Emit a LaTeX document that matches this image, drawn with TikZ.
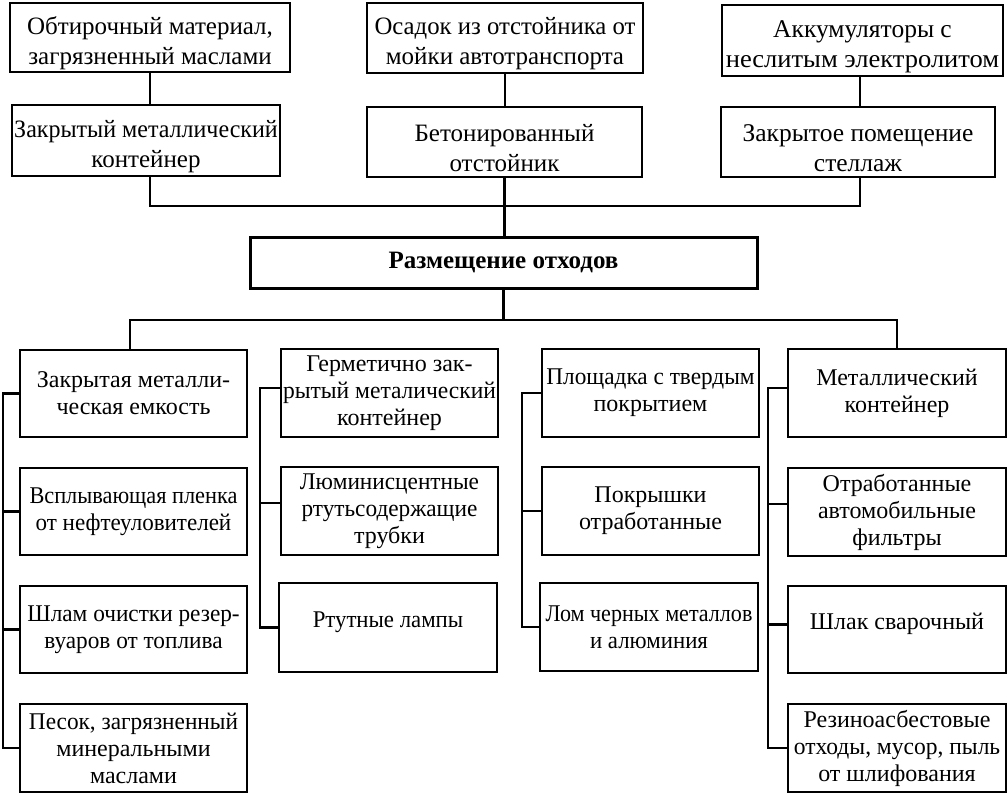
\documentclass[tikz,border=0pt]{standalone}
\usepackage{fontspec}
\setmainfont{Liberation Serif}
\usetikzlibrary{calc}
\tikzset{
  bx/.style={draw, line width=2.6pt, inner sep=0pt, align=center, font=\fontsize{24}{27}\selectfont},
  topbx/.style={bx, font=\fontsize{25}{30}\selectfont},
  bigbx/.style={topbx, font=\fontsize{25.5}{30}\selectfont},
  mainbx/.style={bx, line width=3pt, font=\bfseries\fontsize{25}{28}\selectfont},
  ln/.style={line width=2.4pt}
}
\newcommand\mkbox[7][bx]{\node[#1, minimum width={(#5-#3)*1pt}, minimum height={(#6-#4)*1pt}] (#2) at ({(#3+#5)/2},{(#4+#6)/2}) {#7};}
\newcommand\sq[2]{\scalebox{#1}[1]{#2}}
\newcommand\up{\rule[-16pt]{0pt}{0pt}}
\newcommand\dn{\rule{0pt}{29pt}}
\begin{document}
\begin{tikzpicture}[x=1pt,y=-1pt]
\useasboundingbox (0,0) rectangle (1008,793);
% top row
\mkbox[topbx]{A1}{10}{3}{290}{72}{\dn Обтирочный материал,\\загрязненный маслами}
\mkbox[topbx]{A2}{12}{105}{280}{176}{\dn\sq{0.96}{Закрытый металлический}\\контейнер}
\mkbox[topbx]{B1}{367}{3}{643}{73}{\dn\sq{0.99}{Осадок из отстойника от}\\мойки автотранспорта}
\mkbox[topbx]{B2}{367}{107}{642}{177}{\dn Бетонированный\\отстойник}
\mkbox[bigbx]{C1}{722}{5}{1003}{76}{\dn Аккумуляторы с\\\sq{1.04}{неслитым электролитом}}
\mkbox[bigbx]{C2}{721}{107}{995}{177}{\dn Закрытое помещение\\стеллаж}
\mkbox[mainbx]{M}{250}{237}{757}{288}{Размещение отходов}
% columns
\mkbox{D1}{20}{350}{247}{437}{Закрытая металли-\\ческая емкость}
\mkbox{D2}{20}{468}{247}{555}{\sq{0.93}{Всплывающая пленка}\\\sq{0.96}{от нефтеуловителей}}
\mkbox{D3}{20}{586}{247}{673}{\sq{0.97}{Шлам очистки резер-}\\\sq{0.97}{вуаров от топлива}}
\mkbox{D4}{20}{704}{247}{792}{\sq{0.97}{Песок, загрязненный}\\минеральными\\маслами}
\mkbox{E1}{281}{349}{498}{437}{Герметично зак-\\\sq{0.98}{рытый металический}\\контейнер}
\mkbox{E2}{281}{467}{498}{555}{\sq{0.97}{Люминисцентные}\\\sq{0.97}{ртутьсодержащие}\\трубки}
\mkbox{E3}{279}{583}{497}{672}{\sq{0.95}{Ртутные лампы}\up}
\mkbox{F1}{542}{349}{759}{437}{\sq{0.97}{Площадка с твердым}\\покрытием}
\mkbox{F2}{542}{467}{759}{555}{Покрышки\\отработанные}
\mkbox{F3}{540}{583}{758}{671}{\sq{0.92}{Лом черных металлов}\\\sq{0.95}{и алюминия}}
\mkbox{G1}{788}{349}{1006}{437}{Металлический\\контейнер}
\mkbox{G2}{788}{468}{1006}{556}{Отработанные\\автомобильные\\фильтры}
\mkbox{G3}{788}{586}{1006}{673}{Шлак сварочный\up}
\mkbox{G4}{788}{704}{1006}{792}{Резиноасбестовые\\\sq{0.98}{отходы, мусор, пыль}\\от шлифования}
% top connectors
\coordinate (jt) at (B2.south |- 0,206);
\draw[ln] (A1.south) -- (A1.south |- A2.north);
\draw[ln] (B1.south) -- (B1.south |- B2.north);
\draw[ln] (C2.north -| 860,0) -- (C1.south -| 860,0);
\draw[ln] (A1.south |- A2.south) |- (jt) -| (860,0 |- C2.south);
\draw[ln] (B2.south) -- (B2.south |- M.north);
% bottom connectors
\coordinate (jb) at (M.south |- 0,320);
\draw[ln] (M.south) -- (jb);
\draw[ln] (D1.north -| 130,0) |- (jb) -| (G1.north);
\draw[ln] (E1.north -| 392,0) -- (E1.north -| 392,0 |- jb);
\draw[ln] (F1.north -| 652,0) -- (F1.north -| 652,0 |- jb);
% side brackets
\draw[ln] (D1.west) -| (3,0 |- D4.west) -- (D4.west);
\draw[ln] (D2.west) -- (D2.west -| 3,0);
\draw[ln] (D3.west) -- (D3.west -| 3,0);
\draw[ln] ([yshift=5pt]E1.west) -| (260,0 |- E3.west) -- (E3.west);
\draw[ln] ([yshift=8pt]E2.west) -- ([yshift=8pt]E2.west -| 260,0);
\draw[ln] (F1.west) -| (522,0 |- F3.west) -- (F3.west);
\draw[ln] (F2.west) -- (F2.west -| 522,0);
\draw[ln] ([yshift=5pt]G1.west) -| (768,0 |- G4.west) -- (G4.west);
\draw[ln] ([yshift=8pt]G2.west) -- ([yshift=8pt]G2.west -| 768,0);
\draw[ln] ([yshift=5pt]G3.west) -- ([yshift=5pt]G3.west -| 768,0);
\end{tikzpicture}
\end{document}
